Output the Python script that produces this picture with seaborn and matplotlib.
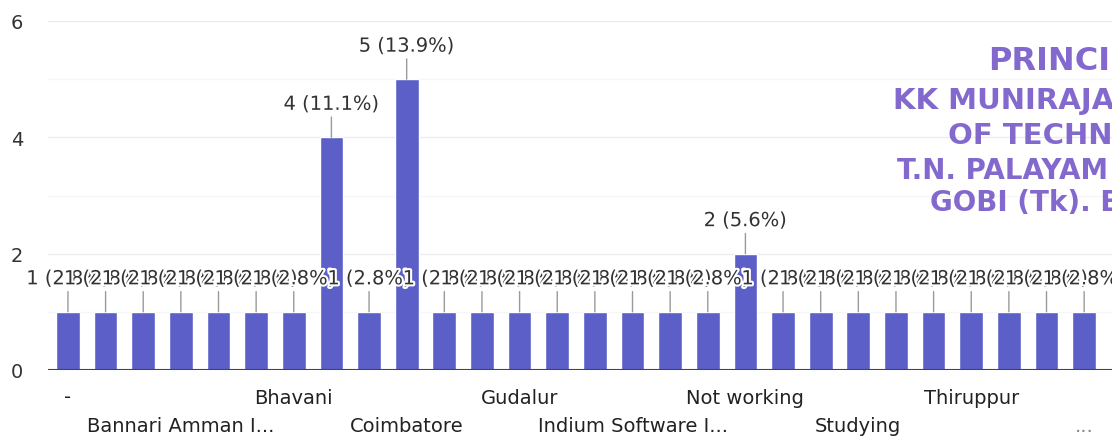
import numpy as np
import pandas as pd
import seaborn as sns
from matplotlib import pyplot as plt
import matplotlib.patheffects as pe

# Werte (28 Balken, alphabetisch)
categories = ["-", "Anthiyur", "Appakudal", "Bannari Amman I...", "Bannari Amman S...",
              "Bengaluru", "Bhavani", "Chennai", "Chithode", "Coimbatore",
              "Erode", "Gobichettipalayam", "Gudalur", "Higher studies", "Hosur",
              "Indium Software I...", "Infosys", "Kangeyam", "Not working", "Perundurai",
              "Salem", "Studying", "Sathyamangalam", "TCS", "Thiruppur",
              "Tiruchengode", "Trichy", "Zoho"]
counts = [1, 1, 1, 1, 1, 1, 1, 4, 1, 5,
          1, 1, 1, 1, 1, 1, 1, 1, 2, 1,
          1, 1, 1, 1, 1, 1, 1, 1]

# nur jede dritte Kategorie ist beschriftet (versetzt in zwei Reihen)
tick_index = [0, 3, 6, 9, 12, 15, 18, 21, 24, 27]
tick_labels = ["-", "Bannari Amman I...", "Bhavani", "Coimbatore", "Gudalur",
               "Indium Software I...", "Not working", "Studying", "Thiruppur", "..."]

stamp_lines = ["PRINCIPAL", "KK MUNIRAJAH COLLEGE", "OF TECHNOLOGY",
               "T.N. PALAYAM (PO)", "GOBI (Tk). ERODE"]

total = sum(counts)
df = pd.DataFrame({"cat": categories, "n": counts})

sns.set_style("white")
plt.rcParams['font.family'] = ['DejaVu Sans']

W, H = 1112, 439
fig = plt.figure(figsize=(W / 100, H / 100), dpi=100)
ax = fig.add_axes([48 / W, 1 - 371 / H, (W - 48) / W, (371 - 22) / H])

sns.barplot(data=df, x="cat", y="n", order=categories, color="#5b5fc7",
            saturation=1, width=0.63, ax=ax, zorder=2)

ax.set_xlim(-0.53, 27.74)
ax.set_ylim(0, 6)
ax.set_yticks([0, 2, 4, 6])
ax.set_yticks([1, 3, 5], minor=True)
ax.yaxis.grid(True, which='major', color='#ececec', lw=1, zorder=0)
ax.yaxis.grid(True, which='minor', color='#f6f6f6', lw=1, zorder=0)
ax.set_axisbelow(True)
ax.axhline(0, color='#444444', lw=1.5, zorder=3)
for s in ax.spines.values():
    s.set_visible(False)
ax.tick_params(axis='y', length=0, pad=18, labelsize=14, labelcolor='#333333')
ax.set_xticks([])
ax.set_xlabel("")
ax.set_ylabel("")

# Achsenbeschriftungen versetzt
for k, (i, lab) in enumerate(zip(tick_index, tick_labels)):
    dy = -27 if k % 2 == 0 else -56
    col = '#888888' if lab == "..." else '#222222'
    ax.annotate(lab, xy=(i, 0), xycoords=('data', 'axes fraction'),
                xytext=(0, dy), textcoords='offset pixels',
                ha='center', va='center', fontsize=14, color=col,
                annotation_clip=False)

# Werte-Beschriftungen mit Hinweislinie
halo = [pe.withStroke(linewidth=3, foreground='white')]
for i, c in enumerate(counts):
    txt = f"{c} ({c / total * 100:.1f}%)"
    a = ax.annotate(txt, xy=(i, c), xytext=(0, 33), textcoords='offset pixels',
                    ha='center', va='center', fontsize=14, color='#333333',
                    arrowprops=dict(arrowstyle='-', color='#9a9a9a', lw=1,
                                    shrinkA=0, shrinkB=0),
                    annotation_clip=False, zorder=4)
    a.set_path_effects(halo)

# Stempel (rechts oben, abgeschnitten)
stamp_pos = [(988, 62, 23), (893, 101, 21), (948, 136, 21),
             (897, 171, 20), (930, 203, 20)]
for line, (px, py, fs) in zip(stamp_lines, stamp_pos):
    fig.text(px / W, 1 - py / H, line, ha='left', va='center', fontsize=fs,
             fontweight='bold', color='#7659c9', alpha=0.9)

plt.savefig("out.png", dpi=100)
